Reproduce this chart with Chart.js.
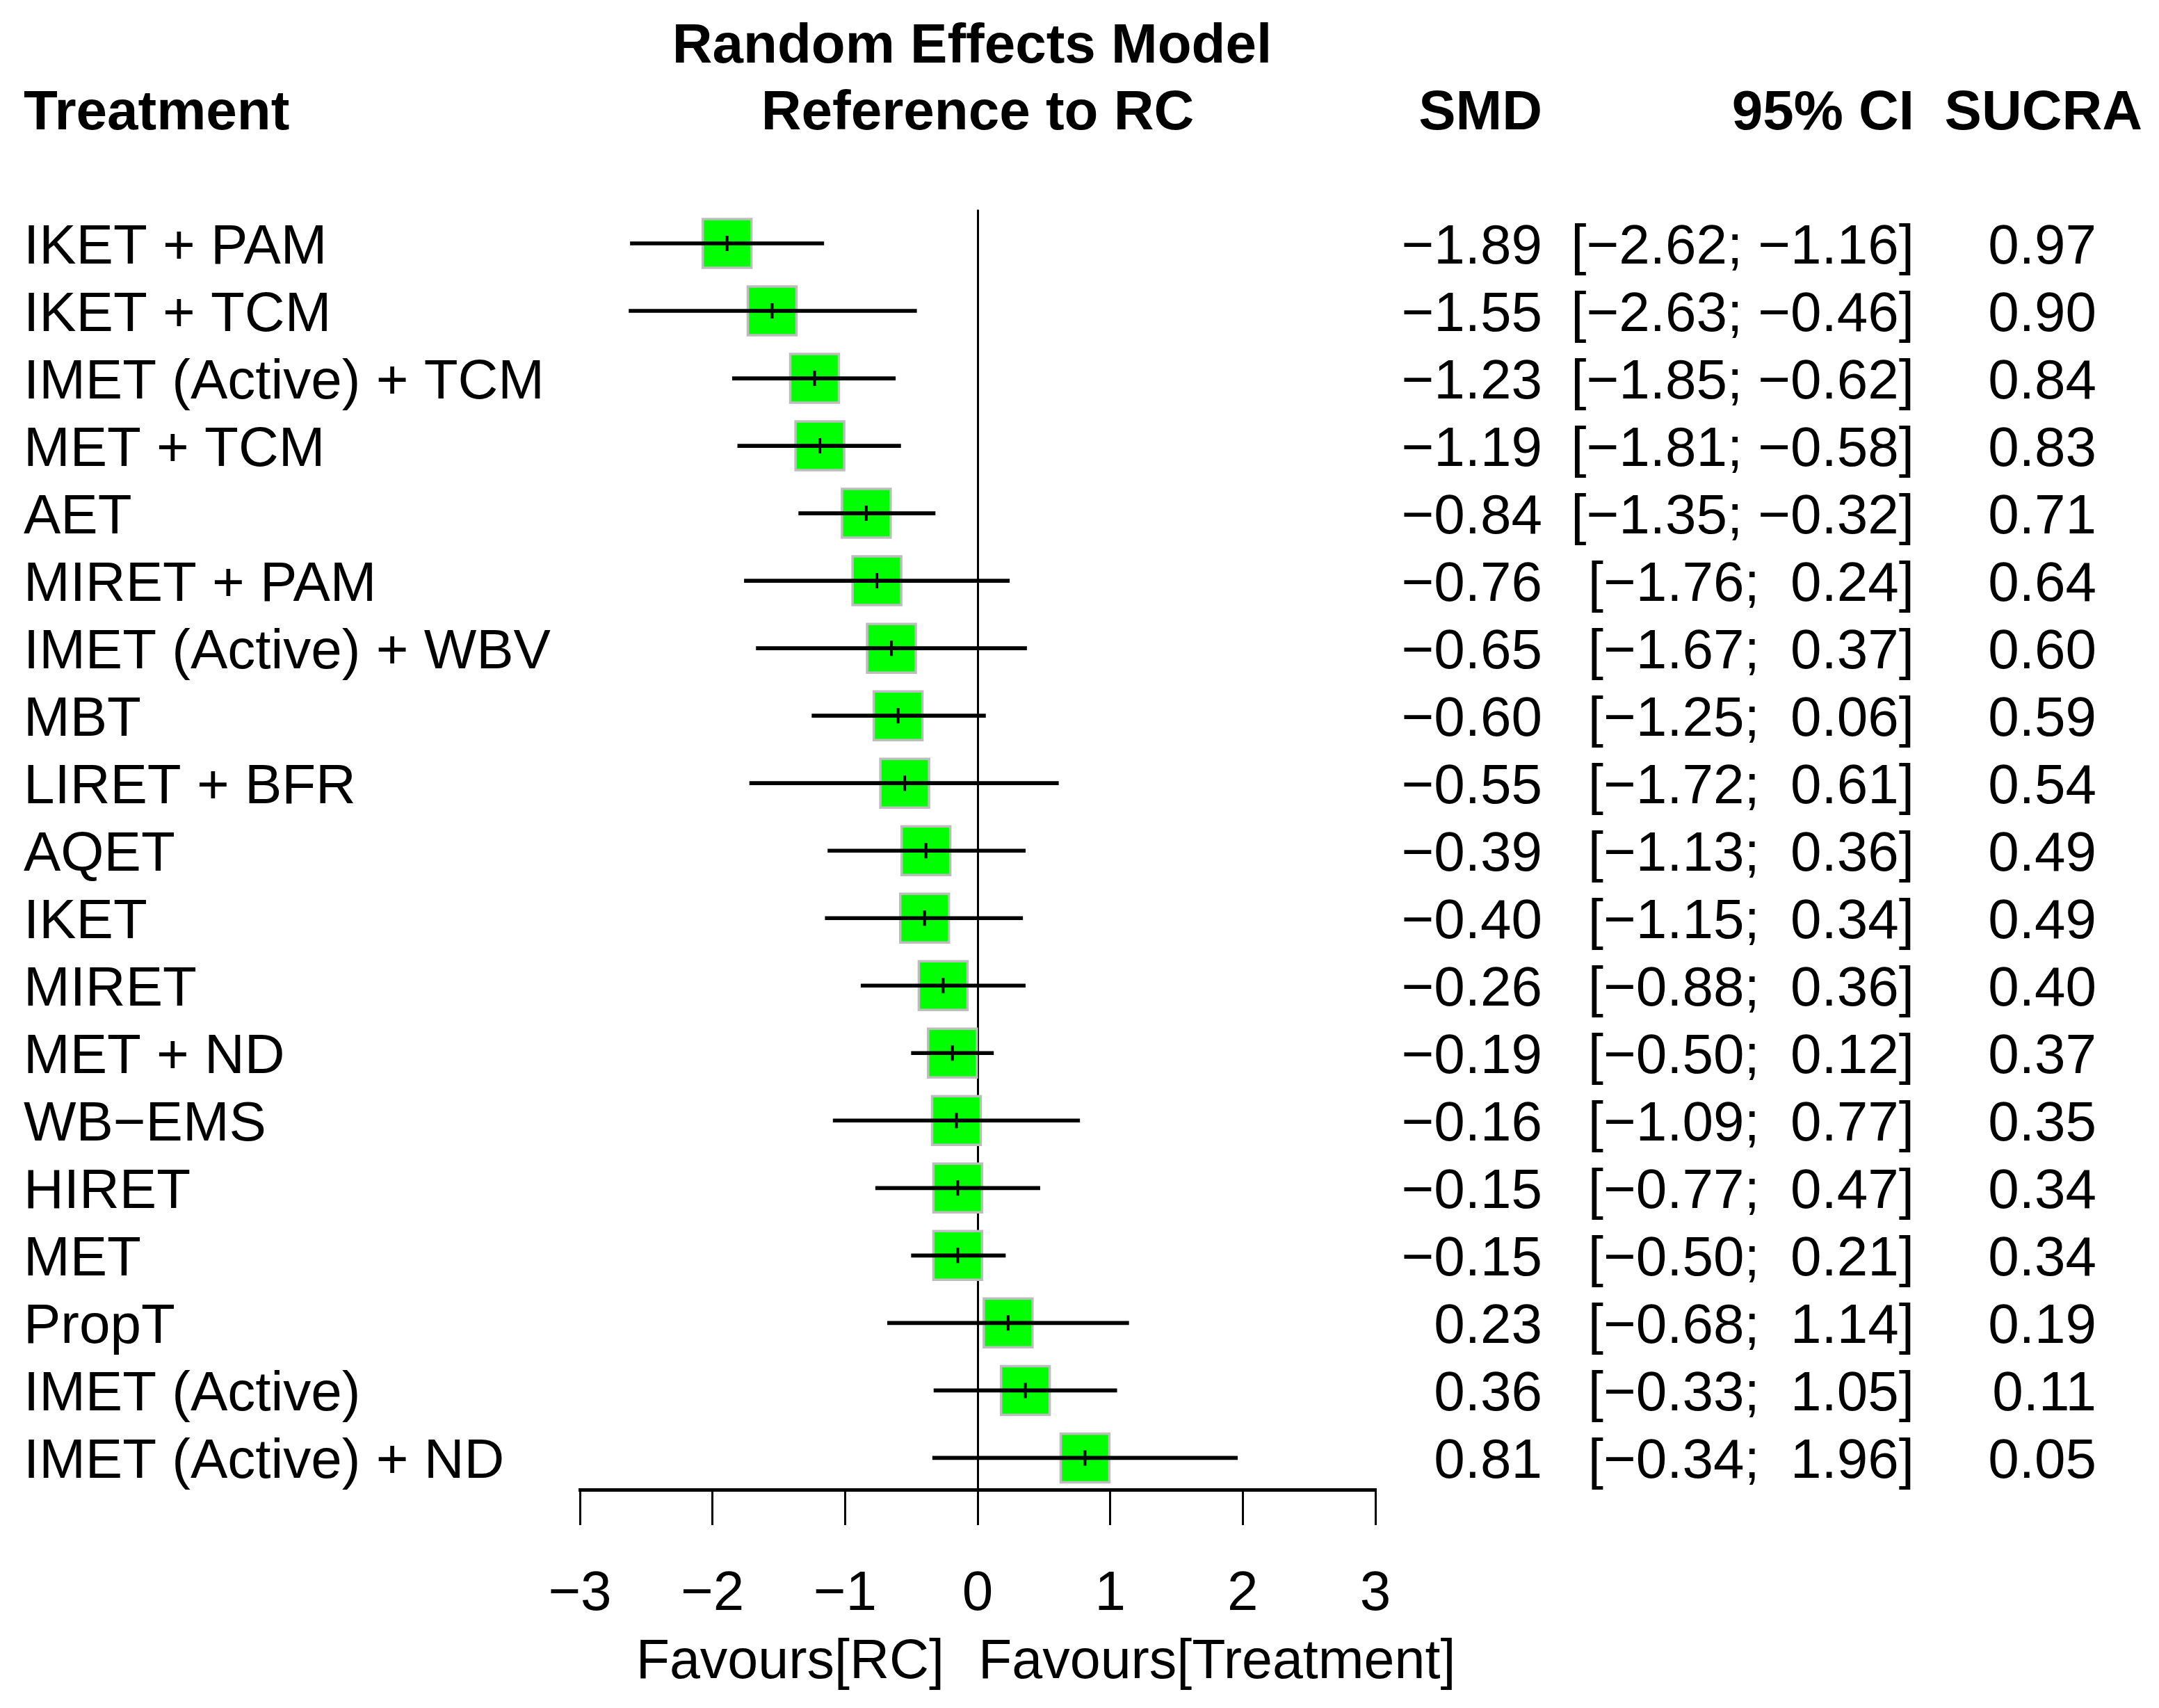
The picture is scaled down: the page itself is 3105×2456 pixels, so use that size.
<!DOCTYPE html>
<html>
<head>
<meta charset="utf-8">
<script src="https://cdn.jsdelivr.net/npm/chart.js@4.4.0/dist/chart.umd.min.js"></script>
<style>
html,body{margin:0;padding:0;background:#fff;}
#c{position:absolute;left:0;top:0;}
</style>
</head>
<body>
<canvas id="c" width="3105" height="2456" style="width:3105px;height:2456px"></canvas>
<script>
const treatments = ["IKET + PAM","IKET + TCM","IMET (Active) + TCM","MET + TCM","AET","MIRET + PAM","IMET (Active) + WBV","MBT","LIRET + BFR","AQET","IKET","MIRET","MET + ND","WB\u2212EMS","HIRET","MET","PropT","IMET (Active)","IMET (Active) + ND"];
const smd   = [-1.89,-1.55,-1.23,-1.19,-0.84,-0.76,-0.65,-0.60,-0.55,-0.39,-0.40,-0.26,-0.19,-0.16,-0.15,-0.15,0.23,0.36,0.81];
const lower = [-2.62,-2.63,-1.85,-1.81,-1.35,-1.76,-1.67,-1.25,-1.72,-1.13,-1.15,-0.88,-0.50,-1.09,-0.77,-0.50,-0.68,-0.33,-0.34];
const upper = [-1.16,-0.46,-0.62,-0.58,-0.32,0.24,0.37,0.06,0.61,0.36,0.34,0.36,0.12,0.77,0.47,0.21,1.14,1.05,1.96];
const sucra = [0.97,0.90,0.84,0.83,0.71,0.64,0.60,0.59,0.54,0.49,0.49,0.40,0.37,0.35,0.34,0.34,0.19,0.11,0.05];
const xTicks = [-3,-2,-1,0,1,2,3];

const MINUS = "\u2212";
const FONT = "'Liberation Sans', Arial, sans-serif";
function num(v){ return (v<0?MINUS:"") + Math.abs(v).toFixed(2); }
function pad(v){ return (v<0?MINUS:" ") + Math.abs(v).toFixed(2); }
function ciText(i){ return "[" + pad(lower[i]) + "; " + pad(upper[i]) + "]"; }

const textPlugin = {
  id: 'forestText',
  afterDraw(chart){
    const ctx = chart.ctx;
    const ys = chart.scales.y, xs = chart.scales.x;
    const x0 = xs.getPixelForValue(0);
    ctx.save();
    ctx.fillStyle = '#000';
    ctx.textBaseline = 'alphabetic';
    // headers
    ctx.font = "bold 80px " + FONT;
    ctx.textAlign = 'left';
    ctx.fillText("Treatment", 34, 186);
    ctx.textAlign = 'center';
    ctx.fillText("Random Effects Model", x0 - 8, 90);
    ctx.fillText("Reference to RC", x0, 186);
    ctx.textAlign = 'right';
    ctx.fillText("SMD", 2218, 186);
    ctx.fillText("95% CI", 2753, 186);
    ctx.fillText("SUCRA", 3081, 186);
    // rows
    ctx.font = "80px " + FONT;
    for (let i = 0; i < treatments.length; i++) {
      const y = ys.getPixelForValue(i) + 28.5;
      ctx.textAlign = 'left';
      ctx.fillText(treatments[i], 34, y);
      ctx.textAlign = 'right';
      ctx.fillText(num(smd[i]), 2218, y);
      ctx.fillText(ciText(i), 2753, y);
      ctx.fillText(sucra[i].toFixed(2), 3015, y);
    }
    // favours labels
    ctx.font = "79px " + FONT;
    ctx.textAlign = 'right';
    ctx.fillText("Favours[RC]", x0 - 48, 2413);
    ctx.textAlign = 'left';
    ctx.fillText("Favours[Treatment]", x0 + 1, 2413);
    ctx.restore();
  }
};

new Chart(document.getElementById('c'), {
  data: {
    datasets: [
      {
        type: 'scatter',
        label: 'SMD',
        data: smd.map((v,i)=>({x:v, y:i})),
        pointStyle: 'rect',
        pointRadius: 49.5,
        pointHoverRadius: 49.5,
        backgroundColor: '#00ff00',
        borderColor: '#bdbdbd',
        borderWidth: 3.5,
        order: 3
      },
      {
        type: 'bar',
        label: '95% CI',
        indexAxis: 'y',
        data: lower.map((v,i)=>({x:[v, upper[i]], y:i})),
        backgroundColor: '#000',
        borderWidth: 0,
        barThickness: 5,
        grouped: false,
        order: 2
      },
      {
        type: 'scatter',
        label: 'mark',
        data: smd.map((v,i)=>({x:v, y:i})),
        pointStyle: 'line',
        rotation: 90,
        pointRadius: 11,
        pointHoverRadius: 11,
        borderColor: '#000',
        borderWidth: 4,
        order: 1
      }
    ]
  },
  options: {
    responsive: false,
    animation: false,
    devicePixelRatio: 1,
    layout: { padding: { left: 834, right: 1127, top: 301.5, bottom: 114 } },
    plugins: { legend: { display: false }, tooltip: { enabled: false } },
    scales: {
      x: {
        type: 'linear',
        position: 'bottom',
        min: -3, max: 3,
        offset: false,
        afterBuildTicks: s => { s.ticks = xTicks.map(v => ({value: v})); },
        afterFit: s => { s.height = 200; },
        grid: {
          drawOnChartArea: true,
          offset: false,
          color: c => (c.tick && c.tick.value === 0) ? '#000' : 'rgba(0,0,0,0)',
          lineWidth: 3,
          tickColor: '#000',
          tickWidth: 3,
          tickLength: 51,
          drawTicks: true
        },
        border: { display: true, color: '#000', width: 5 },
        ticks: {
          color: '#000',
          padding: 52,
          maxRotation: 0,
          autoSkip: false,
          font: { family: FONT, size: 80 },
          callback: v => (v < 0 ? MINUS + Math.abs(v) : String(v))
        }
      },
      y: {
        type: 'linear',
        display: false,
        reverse: true,
        offset: false,
        grace: 0,
        min: -0.5,
        max: 18.47
      }
    }
  },
  plugins: [textPlugin]
});
</script>
</body>
</html>
